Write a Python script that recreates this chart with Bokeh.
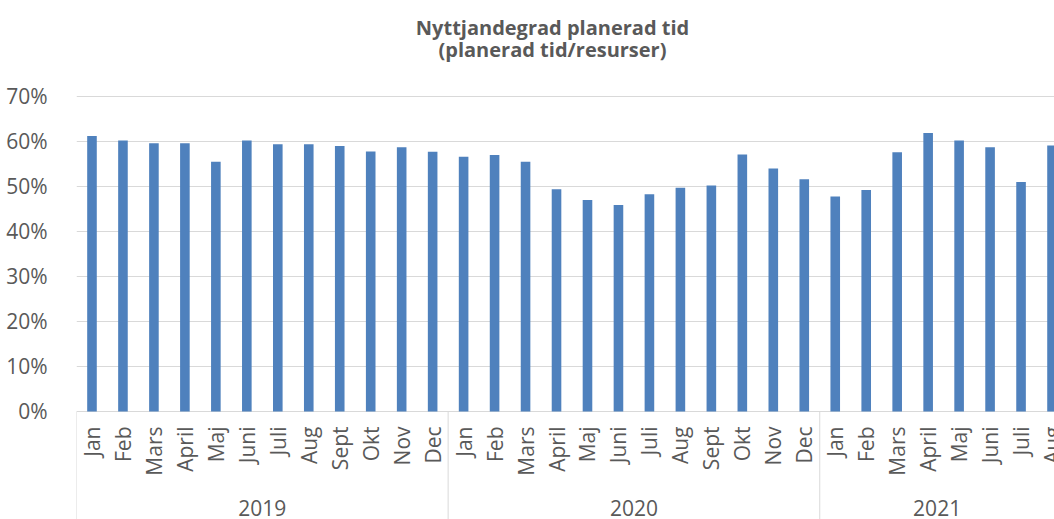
import math
from bokeh.plotting import figure
from bokeh.models import Range1d, FixedTicker, NumeralTickFormatter
from bokeh.core.properties import value
from bokeh.embed import file_html
from bokeh.resources import INLINE

# ---------------- data ----------------
title_lines = ["Nyttjandegrad planerad tid", "(planerad tid/resurser)"]
years = ["2019", "2020", "2021"]
months_2019 = ["Jan", "Feb", "Mars", "April", "Maj", "Juni", "Juli", "Aug", "Sept", "Okt", "Nov", "Dec"]
months_2020 = ["Jan", "Feb", "Mars", "April", "Maj", "Juni", "Juli", "Aug", "Sept", "Okt", "Nov", "Dec"]
months_2021 = ["Jan", "Feb", "Mars", "April", "Maj", "Juni", "Juli", "Aug"]
values_2019 = [0.612, 0.602, 0.596, 0.596, 0.555, 0.602, 0.594, 0.594, 0.590, 0.578, 0.587, 0.577]
values_2020 = [0.566, 0.570, 0.555, 0.494, 0.470, 0.459, 0.483, 0.497, 0.502, 0.571, 0.540, 0.516]
values_2021 = [0.478, 0.492, 0.576, 0.619, 0.602, 0.587, 0.510, 0.591]
y_ticks = [0.0, 0.1, 0.2, 0.3, 0.4, 0.5, 0.6, 0.7]

# ---------------- layout / style ----------------
FONT = "Open Sans"
TXT = "#595959"
GRID = "#d9d9d9"
BAR = "#4f81bd"
X_END = 31.58          # visible category span (chart is cropped on the right)
Y_MIN, Y_MAX = -0.24, 0.9133
TITLE_X = 15.37

groups = [(years[0], months_2019, values_2019),
          (years[1], months_2020, values_2020),
          (years[2], months_2021, values_2021)]

xs, tops, labels = [], [], []
bounds, year_x = [], []
pos = 0
for yr, ms, vs in groups:
    bounds.append(pos)
    for m, v in zip(ms, vs):
        xs.append(pos + 0.5)
        tops.append(v)
        labels.append(m)
        pos += 1
    start = bounds[-1]
    year_x.append((start + min(pos, X_END)) / 2)

p = figure(width=1054, height=519, output_backend="svg", toolbar_location=None,
           x_range=Range1d(0, X_END), y_range=Range1d(Y_MIN, Y_MAX),
           x_axis_location=None,
           min_border_left=76, min_border_right=0, min_border_top=0, min_border_bottom=0)
p.outline_line_color = None
p.background_fill_color = "white"
p.border_fill_color = "white"

# grid
p.xgrid.visible = False
p.ygrid.ticker = FixedTicker(ticks=y_ticks)
p.ygrid.grid_line_color = GRID
p.ygrid.grid_line_width = 1

# y axis
ya = p.yaxis[0]
ya.ticker = FixedTicker(ticks=y_ticks)
ya.formatter = NumeralTickFormatter(format="0%")
ya.axis_line_color = None
ya.major_tick_line_color = None
ya.minor_tick_line_color = None
ya.major_label_text_font = FONT
ya.major_label_text_font_size = "21px"
ya.major_label_text_color = TXT
ya.major_label_standoff = 23

# bars
p.vbar(x=xs, top=tops, bottom=0, width=0.31, fill_color=BAR, line_color=None)

# group separators in the category-axis area
p.segment(x0=bounds, y0=[0] * len(bounds), x1=bounds, y1=[Y_MIN] * len(bounds),
          line_color=GRID, line_width=1)

# month labels
p.text(x=xs, y=[0] * len(xs), text=labels, angle=math.pi / 2,
       text_align="right", text_baseline="middle", y_offset=15,
       text_font=value(FONT), text_font_size="21px", text_color=TXT)

# year labels
p.text(x=year_x, y=[0] * len(year_x), text=years, text_align="center",
       text_baseline="middle", y_offset=97,
       text_font=value(FONT), text_font_size="21px", text_color=TXT)

# title
p.text(x=[TITLE_X, TITLE_X], y=[0.7, 0.7], text=title_lines, text_align="center",
       text_baseline="middle", y_offset=[-69, -47],
       text_font=value(FONT), text_font_style="bold", text_font_size="20px", text_color=TXT)

open("out.html", "w").write(file_html(p, INLINE))
